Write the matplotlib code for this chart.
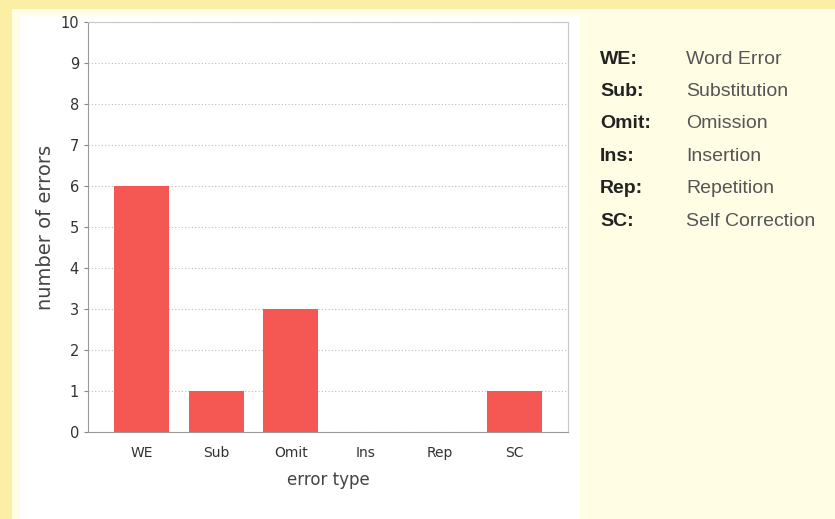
import matplotlib
matplotlib.use('Agg')
import matplotlib.pyplot as plt
from matplotlib.patches import Rectangle

# data
categories = ["WE", "Sub", "Omit", "Ins", "Rep", "SC"]
errors = [6, 1, 3, 0, 0, 1]
abbrevs = ["WE:", "Sub:", "Omit:", "Ins:", "Rep:", "SC:"]
meanings = ["Word Error", "Substitution", "Omission", "Insertion", "Repetition", "Self Correction"]

W, H = 835, 519
fig = plt.figure(figsize=(W / 100, H / 100), dpi=100)
fig.patch.set_facecolor('#FFFDE4')

# yellow frame + white panel behind the chart
fig.patches.append(Rectangle((0, 0), 1, 1, transform=fig.transFigure,
                             facecolor='#FBEFA6', edgecolor='none', zorder=-3))
fig.patches.append(Rectangle((12 / W, 0), 1 - 12 / W, 1 - 9 / H, transform=fig.transFigure,
                             facecolor='#FFFDE4', edgecolor='none', zorder=-2))
fig.patches.append(Rectangle((20 / W, 0), 560 / W, 1 - 15 / H, transform=fig.transFigure,
                             facecolor='white', edgecolor='none', zorder=-1))

ax = fig.add_axes([88 / W, 1 - 432 / H, 480 / W, 410 / H])
ax.set_facecolor('white')
ax.bar(range(len(categories)), errors, width=0.74, color='#F55753', zorder=2)

ax.set_xlim(-0.72, 5.72)
ax.set_ylim(0, 10)
ax.set_yticks(range(0, 11))
ax.set_xticks(range(len(categories)))
ax.set_xticklabels(categories)
ax.yaxis.grid(True, linestyle=(0, (1, 2)), color='#BBBBBB', linewidth=0.8, zorder=0)

for s in ax.spines.values():
    s.set_color('#C8C8C8')
ax.spines['left'].set_color('#999999')
ax.spines['bottom'].set_color('#999999')
ax.tick_params(axis='y', length=3, color='#888888', labelsize=10.5, labelcolor='#333333')
ax.tick_params(axis='x', length=0, pad=10, labelsize=10, labelcolor='#333333')

ax.set_xlabel("error type", fontsize=12, color='#444444', labelpad=8)
ax.set_ylabel("number of errors", fontsize=14, color='#444444', labelpad=4)

# legend of abbreviations on the right
for i, (a, m) in enumerate(zip(abbrevs, meanings)):
    y = 1 - (59 + i * 32.4) / H
    fig.text(600 / W, y, a, fontsize=14, fontweight='bold', color='#222222',
             family='Liberation Sans', va='center')
    fig.text(686 / W, y, m, fontsize=14, color='#555555',
             family='Liberation Sans', va='center')

fig.savefig('out.png', dpi=100, facecolor=fig.get_facecolor())
